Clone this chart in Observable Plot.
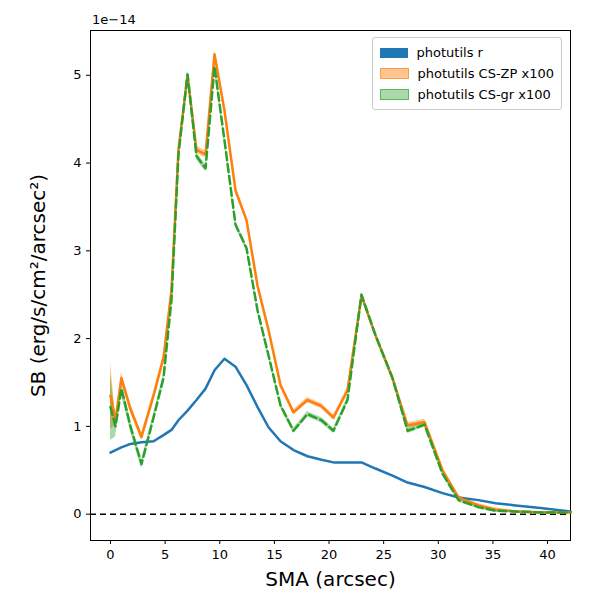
<!DOCTYPE html>
<html><head>
<script src="https://cdn.jsdelivr.net/npm/d3@7"></script>
<script src="https://cdn.jsdelivr.net/npm/@observablehq/plot@0.6"></script>
<style>body{margin:0;font-family:"DejaVu Sans",sans-serif;background:#fff}
#wrap{position:relative;width:600px;height:600px}
.leg{position:absolute;right:38px;top:37px;border:1px solid #ccc;border-radius:3px;background:rgba(255,255,255,0.85);padding:4px 7px;font-size:13px;line-height:21px}
.leg span{display:inline-block;width:28px;height:10px;margin-right:9px;vertical-align:-1px}
.exp{position:absolute;left:92px;top:12px;font-size:13px}
</style></head><body>
<div id="wrap"><div class="exp">1e−14</div>
<div class="leg">
<div><span style="background:#1f77b4"></span>photutils r</div>
<div><span style="background:rgba(255,127,14,0.45);border:1px solid rgba(255,127,14,0.6);height:9px;width:27px"></span>photutils CS-ZP x100</div>
<div><span style="background:rgba(44,160,44,0.4);border:1px solid rgba(44,160,44,0.6);height:9px;width:27px"></span>photutils CS-gr x100</div>
</div></div>
<script>
const sma = [0,0.46,1.0,1.83,2.84,3.94,4.85,5.58,6.22,7.05,7.87,8.7,9.52,10.43,11.44,12.45,13.46,14.46,15.56,16.75,18.03,19.31,20.41,21.69,22.97,24.25,25.81,27.19,28.74,30.39,31.85,33.68,35.24,37.07,39.36,42.1];
const sbR = [0.7,0.73,0.76,0.8,0.82,0.83,0.9,0.96,1.07,1.18,1.3,1.43,1.64,1.77,1.68,1.47,1.22,0.99,0.83,0.73,0.66,0.62,0.59,0.59,0.59,0.52,0.44,0.36,0.31,0.24,0.19,0.16,0.125,0.1,0.07,0.03];
const sbZP = [1.35,1.07,1.55,1.2,0.88,1.35,1.78,2.55,4.15,5.0,4.15,4.1,5.24,4.6,3.69,3.35,2.6,2.1,1.47,1.16,1.3,1.23,1.1,1.41,2.49,2.04,1.55,1.01,1.05,0.5,0.19,0.1,0.05,0.03,0.02,0.02];
const sbGR = [1.22,1.0,1.43,1.0,0.57,1.1,1.55,2.44,4.1,5.01,4.08,3.94,5.1,4.26,3.3,3.03,2.32,1.81,1.24,0.95,1.14,1.07,0.95,1.3,2.5,2.04,1.55,0.95,1.02,0.46,0.16,0.08,0.04,0.03,0.02,0.02];
const errZP = [0.38,0.06,0.06,0.05,0.04,0.04,0.04,0.04,0.04,0.04,0.04,0.04,0.04,0.04,0.03,0.03,0.03,0.03,0.03,0.03,0.03,0.03,0.03,0.03,0.03,0.03,0.03,0.03,0.03,0.02,0.02,0.02,0.02,0.01,0.01,0.01];
const errGR = [0.38,0.12,0.07,0.06,0.05,0.04,0.04,0.04,0.04,0.04,0.04,0.04,0.04,0.04,0.03,0.03,0.03,0.03,0.03,0.03,0.03,0.03,0.03,0.03,0.03,0.03,0.03,0.03,0.03,0.02,0.02,0.02,0.02,0.01,0.01,0.01];
const d = sma.map((x,i)=>({x,r:sbR[i],zp:sbZP[i],gr:sbGR[i],ezp:errZP[i],egr:errGR[i]}));
const p = Plot.plot({
  width:600,height:600,marginLeft:90,marginRight:30,marginTop:30,marginBottom:60,
  style:{fontSize:"13px",fontFamily:"DejaVu Sans",color:"#000"},
  x:{domain:[-1.83,42.1],ticks:d3.range(0,41,5),tickFormat:"d",tickSize:4,label:"SMA (arcsec)",labelArrow:"none",labelAnchor:"center",labelOffset:45},
  y:{domain:[-0.3,5.51],ticks:d3.range(0,6),tickFormat:"d",tickSize:4,label:"SB (erg/s/cm²/arcsec²)",labelArrow:"none",labelAnchor:"center",labelOffset:60},
  marks:[
    Plot.frame(),
    Plot.ruleY([0],{stroke:"black",strokeDasharray:"6,4",strokeWidth:1.5}),
    Plot.areaY(d,{x:"x",y1:dd=>dd.zp-dd.ezp,y2:dd=>dd.zp+dd.ezp,fill:"#ff7f0e",fillOpacity:0.45}),
    Plot.areaY(d,{x:"x",y1:dd=>dd.gr-dd.egr,y2:dd=>dd.gr+dd.egr,fill:"#2ca02c",fillOpacity:0.4}),
    Plot.line(d,{x:"x",y:"r",stroke:"#1f77b4",strokeWidth:2.5}),
    Plot.line(d,{x:"x",y:"zp",stroke:"#ff7f0e",strokeWidth:2.5}),
    Plot.line(d,{x:"x",y:"gr",stroke:"#2ca02c",strokeWidth:2.5,strokeDasharray:"8,4"})
  ]
});
p.querySelectorAll("[aria-label='x-axis label'] text, [aria-label='y-axis label'] text").forEach(t=>{t.style.fontSize="20px";t.textContent=t.textContent.replace(/\s*[→↑]\s*$/,"");});
p.style.position="absolute";p.style.left="0";p.style.top="0";
document.getElementById("wrap").prepend(p);
</script></body></html>
